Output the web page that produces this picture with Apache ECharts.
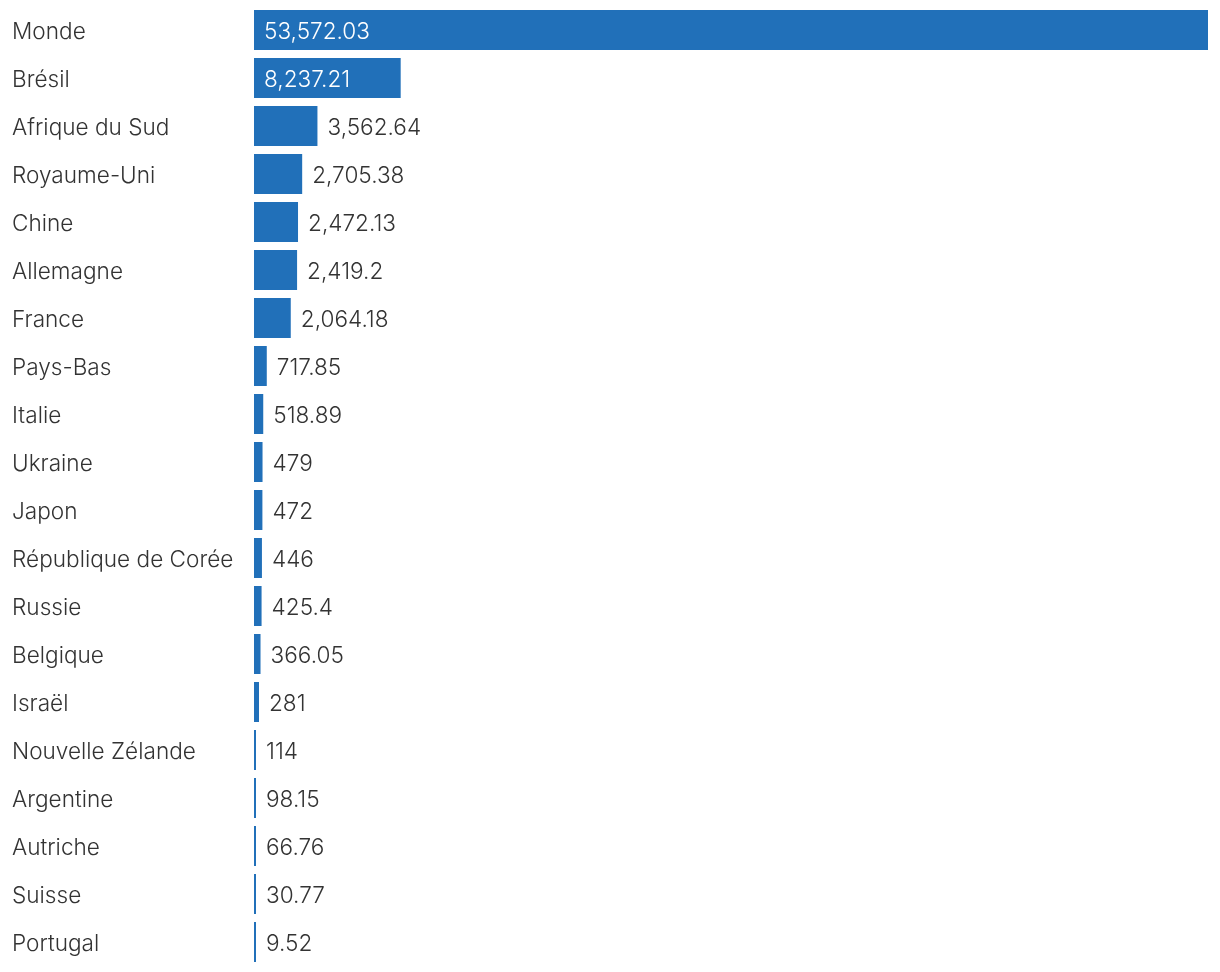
<!DOCTYPE html>
<html>
<head>
<meta charset="utf-8">
<script src="https://cdn.jsdelivr.net/npm/echarts@6/dist/echarts.min.js"></script>
<style>html,body{margin:0;padding:0;background:#fff}#c{width:1220px;height:972px}</style>
</head>
<body>
<div id="c"></div>
<script>
const categories = ["Monde","Brésil","Afrique du Sud","Royaume-Uni","Chine","Allemagne","France","Pays-Bas","Italie","Ukraine","Japon","République de Corée","Russie","Belgique","Israël","Nouvelle Zélande","Argentine","Autriche","Suisse","Portugal"];
const values = [53572.03,8237.21,3562.64,2705.38,2472.13,2419.2,2064.18,717.85,518.89,479,472,446,425.4,366.05,281,114,98.15,66.76,30.77,9.52];
const insideCount = 2;

const fmt = v => v.toLocaleString('en-US', {maximumFractionDigits: 2});
const FONT = 'Inter';
const chart = echarts.init(document.getElementById('c'));
chart.setOption({
  animation: false,
  grid: {left: 254, right: 12, top: 6, bottom: 6, containLabel: false},
  xAxis: {type: 'value', min: 0, max: 'dataMax', show: false},
  yAxis: {
    type: 'category', inverse: true, data: categories,
    axisLine: {show: false}, axisTick: {show: false},
    axisLabel: {
      align: 'left', margin: 242, color: '#333', fontFamily: FONT, fontWeight: 300, fontSize: 22.6,
      formatter: v => '{a|' + v + '}',
      rich: {a: {color: '#333', fontFamily: FONT, fontWeight: 300, fontSize: 22.6, padding: [4, 0, 0, 0]}}
    }
  },
  series: [{
    type: 'bar', barCategoryGap: '16.7%', barMinHeight: 2,
    itemStyle: {color: '#2170b9'},
    data: values.map((v, i) => ({
      value: v,
      label: i < insideCount
        ? {show: true, position: 'insideLeft', distance: 10, color: '#fff'}
        : {show: true, position: 'right', distance: 10, color: '#333'}
    })),
    label: {formatter: p => fmt(p.value), fontFamily: FONT, fontWeight: 300, fontSize: 22.6, offset: [0, 2]}
  }]
});
</script>
</body>
</html>
